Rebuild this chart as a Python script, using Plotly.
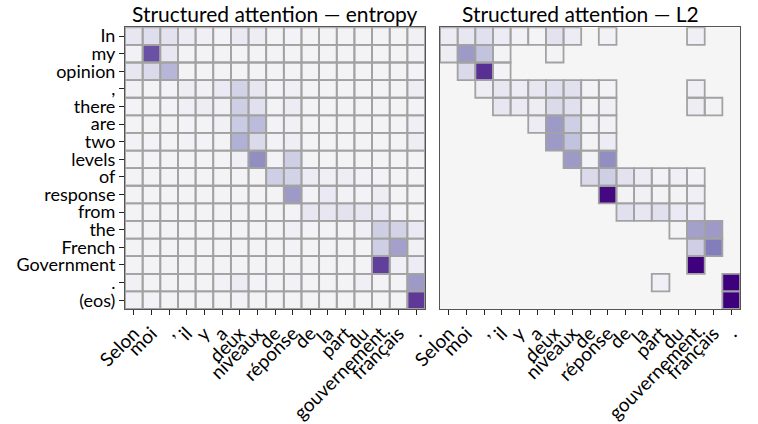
import plotly.graph_objects as go

rows = ["In", "my", "opinion", ",", "there", "are", "two", "levels", "of",
        "response", "from", "the", "French", "Government", ".", "(eos)"]
cols = ["Selon", "moi", ",", "il", "y", "a", "deux", "niveaux", "de", "réponse",
        "de", "la", "part", "du", "gouvernement", "français", "."]

# entropy-regularised structured attention (dense)
entropy = [
    [0.15, 0.22, 0.18, 0.10, 0.06, 0.03, 0.12, 0.08, 0.02, 0.03, 0.02, 0.02, 0.02, 0.02, 0.02, 0.02, 0.05],
    [0.04, 0.75, 0.15, 0.02, 0.02, 0.02, 0.02, 0.02, 0.02, 0.02, 0.02, 0.02, 0.02, 0.02, 0.02, 0.02, 0.04],
    [0.15, 0.25, 0.40, 0.02, 0.02, 0.02, 0.02, 0.02, 0.02, 0.02, 0.02, 0.02, 0.02, 0.02, 0.02, 0.02, 0.03],
    [0.05, 0.02, 0.03, 0.08, 0.05, 0.12, 0.28, 0.15, 0.02, 0.06, 0.02, 0.02, 0.02, 0.02, 0.02, 0.02, 0.08],
    [0.03, 0.02, 0.03, 0.06, 0.08, 0.05, 0.30, 0.20, 0.02, 0.10, 0.02, 0.02, 0.02, 0.02, 0.02, 0.02, 0.03],
    [0.02, 0.02, 0.02, 0.03, 0.02, 0.05, 0.32, 0.38, 0.03, 0.05, 0.02, 0.02, 0.02, 0.02, 0.02, 0.02, 0.06],
    [0.04, 0.03, 0.02, 0.04, 0.03, 0.02, 0.42, 0.25, 0.02, 0.07, 0.02, 0.02, 0.02, 0.02, 0.02, 0.02, 0.08],
    [0.02, 0.02, 0.02, 0.02, 0.02, 0.02, 0.06, 0.55, 0.03, 0.30, 0.02, 0.02, 0.02, 0.02, 0.02, 0.02, 0.02],
    [0.02, 0.02, 0.02, 0.02, 0.02, 0.02, 0.02, 0.02, 0.30, 0.28, 0.10, 0.06, 0.08, 0.04, 0.03, 0.02, 0.02],
    [0.02, 0.02, 0.02, 0.02, 0.02, 0.02, 0.02, 0.02, 0.02, 0.50, 0.03, 0.12, 0.04, 0.03, 0.08, 0.02, 0.02],
    [0.02, 0.02, 0.02, 0.02, 0.02, 0.02, 0.02, 0.02, 0.02, 0.02, 0.15, 0.15, 0.18, 0.15, 0.12, 0.03, 0.02],
    [0.02, 0.02, 0.02, 0.02, 0.02, 0.02, 0.02, 0.02, 0.02, 0.06, 0.03, 0.02, 0.02, 0.06, 0.30, 0.28, 0.12],
    [0.02, 0.02, 0.02, 0.02, 0.02, 0.02, 0.02, 0.02, 0.02, 0.03, 0.02, 0.02, 0.02, 0.02, 0.30, 0.48, 0.05],
    [0.02, 0.02, 0.02, 0.02, 0.02, 0.02, 0.02, 0.02, 0.02, 0.02, 0.02, 0.02, 0.02, 0.02, 0.80, 0.06, 0.10],
    [0.05, 0.02, 0.02, 0.02, 0.02, 0.04, 0.10, 0.03, 0.02, 0.04, 0.02, 0.02, 0.02, 0.06, 0.02, 0.02, 0.50],
    [0.05, 0.04, 0.02, 0.02, 0.02, 0.02, 0.04, 0.02, 0.02, 0.02, 0.02, 0.02, 0.02, 0.02, 0.02, 0.02, 0.82],
]

# L2-regularised structured attention (sparse, 0 = exactly zero)
l2 = [
    [0.10, 0.15, 0.20, 0.10, 0.04, 0.01, 0.18, 0.10, 0, 0.04, 0, 0, 0, 0, 0.06, 0, 0],
    [0.08, 0.50, 0.35, 0.02, 0, 0, 0.02, 0, 0, 0, 0, 0, 0, 0, 0, 0, 0],
    [0, 0.25, 0.85, 0.03, 0, 0, 0, 0, 0, 0, 0, 0, 0, 0, 0, 0, 0],
    [0, 0, 0.08, 0.15, 0.10, 0.15, 0.20, 0.20, 0.03, 0.02, 0, 0, 0, 0, 0.06, 0, 0],
    [0, 0, 0, 0.15, 0.12, 0.08, 0.25, 0.20, 0.03, 0.06, 0, 0, 0, 0, 0.08, 0.02, 0],
    [0, 0, 0, 0, 0, 0.10, 0.50, 0.30, 0.04, 0.04, 0, 0, 0, 0, 0, 0, 0],
    [0, 0, 0, 0, 0, 0, 0.50, 0.35, 0.02, 0.10, 0, 0, 0, 0, 0, 0, 0],
    [0, 0, 0, 0, 0, 0, 0, 0.50, 0.02, 0.55, 0, 0, 0, 0, 0, 0, 0],
    [0, 0, 0, 0, 0, 0, 0, 0, 0.25, 0.30, 0.18, 0.10, 0.04, 0.06, 0.03, 0, 0],
    [0, 0, 0, 0, 0, 0, 0, 0, 0, 0.97, 0.02, 0.05, 0.02, 0.02, 0.06, 0, 0],
    [0, 0, 0, 0, 0, 0, 0, 0, 0, 0, 0.20, 0.15, 0.20, 0.12, 0.10, 0, 0],
    [0, 0, 0, 0, 0, 0, 0, 0, 0, 0, 0, 0, 0, 0.02, 0.48, 0.50, 0],
    [0, 0, 0, 0, 0, 0, 0, 0, 0, 0, 0, 0, 0, 0, 0.30, 0.62, 0],
    [0, 0, 0, 0, 0, 0, 0, 0, 0, 0, 0, 0, 0, 0, 1.00, 0, 0],
    [0, 0, 0, 0, 0, 0, 0, 0, 0, 0, 0, 0, 0.06, 0, 0, 0, 1.00],
    [0, 0, 0, 0, 0, 0, 0, 0, 0, 0, 0, 0, 0, 0, 0, 0, 1.00],
]

titles = ["Structured attention — entropy", "Structured attention — L2"]

purples = [[0, "#f5f5f7"], [0.125, "#ebe9f3"], [0.25, "#dadaeb"], [0.375, "#bcbddc"],
           [0.5, "#9e9ac8"], [0.625, "#807dba"], [0.75, "#6a51a3"], [0.875, "#54278f"],
           [1, "#3f007d"]]

FONT = "Lato"
xi = list(range(len(cols)))
yi = list(range(len(rows)))

fig = go.Figure()
shapes = []
for k, mat in enumerate([entropy, l2]):
    xa = "x" if k == 0 else "x2"
    ya = "y" if k == 0 else "y2"
    z = [[v if v > 0 else None for v in r] for r in mat]
    fig.add_trace(go.Heatmap(z=z, x=xi, y=yi, colorscale=purples, zmin=0, zmax=1,
                             showscale=False, xaxis=xa, yaxis=ya, hoverongaps=False))
    for i, r in enumerate(mat):
        for j, v in enumerate(r):
            if v > 0:
                shapes.append(dict(type="rect", xref=xa, yref=ya,
                                   x0=j - 0.5, x1=j + 0.5, y0=i - 0.5, y1=i + 0.5,
                                   line=dict(color="#a2a2a2", width=1.8), layer="above"))

ydom = [1 - 309 / 424, 1 - 27.3 / 424]
xdom1 = [125 / 758, 425 / 758]
xdom2 = [440 / 758, 740 / 758]

axis_common = dict(showgrid=False, zeroline=False, showline=True, mirror=True,
                   linecolor="#555", linewidth=1, automargin=False)
xcommon = dict(axis_common, tickvals=xi, ticktext=cols, tickangle=-45, ticks="outside",
               ticklen=5, tickcolor="#222", range=[-0.5, len(cols) - 0.5],
               tickfont=dict(family=FONT, size=19, color="black"))

fig.update_layout(
    width=758, height=424, margin=dict(l=0, r=0, t=0, b=0),
    paper_bgcolor="white", plot_bgcolor="#f5f5f5",
    xaxis=dict(xcommon, domain=xdom1, anchor="y"),
    yaxis=dict(axis_common, domain=ydom, anchor="x", tickvals=yi, ticktext=rows,
               range=[len(rows) - 0.5, -0.5], ticks="outside", ticklen=5, tickcolor="#222",
               tickfont=dict(family=FONT, size=18, color="black")),
    xaxis2=dict(xcommon, domain=xdom2, anchor="y2"),
    yaxis2=dict(axis_common, domain=ydom, anchor="x2", showticklabels=False,
                range=[len(rows) - 0.5, -0.5]),
    shapes=shapes,
    showlegend=False,
)

for t, xc in zip(titles, [275, 580]):
    fig.add_annotation(text=t, xref="paper", yref="paper", x=xc / 758, y=1 - 13.5 / 424,
                       showarrow=False, xanchor="center", yanchor="middle",
                       font=dict(family=FONT, size=21, color="black"))

fig.write_html("out.html", config={"displayModeBar": False},
               post_script="document.body.style.margin='0';document.body.style.padding='0';")
